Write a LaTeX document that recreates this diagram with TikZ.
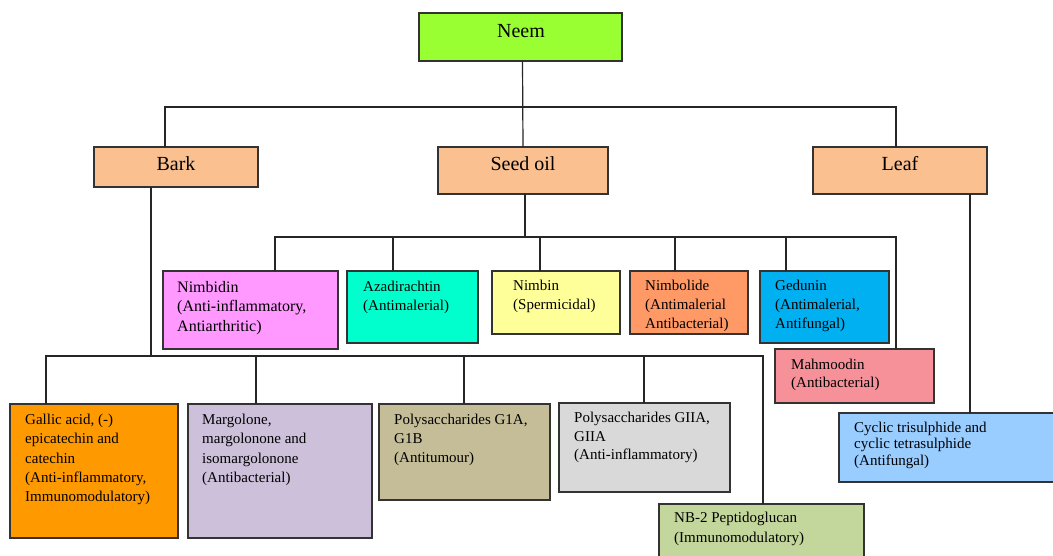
\documentclass[tikz,border=0pt]{standalone}
\usepackage{fontspec}
\setmainfont{Liberation Serif}
\definecolor{cneem}{HTML}{99FF33}
\definecolor{cpeach}{HTML}{FAC090}
\definecolor{cnimbidin}{HTML}{FF99FF}
\definecolor{cazad}{HTML}{00FFCC}
\definecolor{cnimbin}{HTML}{FFFF99}
\definecolor{cnimbolide}{HTML}{FF9966}
\definecolor{cgedunin}{HTML}{00B0F0}
\definecolor{cmahmood}{HTML}{F69199}
\definecolor{cgallic}{HTML}{FF9900}
\definecolor{cmargo}{HTML}{CCC0DA}
\definecolor{cpga}{HTML}{C4BD97}
\definecolor{cpgb}{HTML}{D9D9D9}
\definecolor{cnb}{HTML}{C3D69B}
\definecolor{ccyclic}{HTML}{99CCFF}
\definecolor{cborder}{HTML}{333333}
\begin{document}
\begin{tikzpicture}[x=1pt,y=-1pt,
  box/.style={draw=cborder,line width=1.4pt,rectangle,inner sep=0pt,outer sep=0pt,anchor=north west},
  conn/.style={draw=black!85,line width=1.2pt},
  head/.style={anchor=base,inner sep=0pt,font=\fontsize{20}{24}\selectfont},
  txt/.style={anchor=north west,inner sep=0pt,align=left,font=\fontsize{15}{19}\selectfont}]
\useasboundingbox (0,0) rectangle (1053,556);
\clip (0,0) rectangle (1053,556);
\fill[white] (0,0) rectangle (1053,556);
% boxes
\node[box,fill=cneem,minimum width=203pt,minimum height=48pt] (neem) at (419,13) {};
\node[box,fill=cpeach,minimum width=164pt,minimum height=40pt] (bark) at (94,147) {};
\node[box,fill=cpeach,minimum width=170pt,minimum height=47pt] (seed) at (438,147) {};
\node[box,fill=cpeach,minimum width=174pt,minimum height=47pt] (leaf) at (813,147) {};
\node[box,fill=cnimbidin,minimum width=175pt,minimum height=78pt] (nimbidin) at (163,271) {};
\node[box,fill=cazad,minimum width=131pt,minimum height=72pt] (azad) at (347,271) {};
\node[box,fill=cnimbin,minimum width=128pt,minimum height=63pt] (nimbin) at (492,271) {};
\node[box,fill=cnimbolide,minimum width=118pt,minimum height=63pt] (nimbolide) at (630,271) {};
\node[box,fill=cgedunin,minimum width=129pt,minimum height=72pt] (gedunin) at (760,271) {};
\node[box,fill=cmahmood,minimum width=159pt,minimum height=54pt] (mahmood) at (775,349) {};
\node[box,fill=cgallic,minimum width=168pt,minimum height=134pt] (gallic) at (10,404) {};
\node[box,fill=cmargo,minimum width=184pt,minimum height=134pt] (margo) at (188,404) {};
\node[box,fill=cpga,minimum width=171pt,minimum height=96pt] (pga) at (379,404) {};
\node[box,fill=cpgb,minimum width=171pt,minimum height=89pt] (pgb) at (559,403) {};
\node[box,fill=cnb,minimum width=205pt,minimum height=70pt] (nb) at (659,504) {};
\node[box,fill=ccyclic,minimum width=230pt,minimum height=69pt] (cyclic) at (839,413) {};
% texts
\node[head] (tneem) at (521,38) {Neem};
\node[head] (tbark) at (176,171) {Bark};
\node[head] (tseed) at (523,171) {Seed oil};
\node[head] (tleaf) at (900,171) {Leaf};
\node[txt,font=\fontsize{16}{19.5}\selectfont] (tnimbidin) at (177,281) {Nimbidin\\(Anti-inflammatory,\\Antiarthritic)};
\node[txt,font=\fontsize{15}{18.7}\selectfont] (tazad) at (363,281) {Azadirachtin\\(Antimalerial)};
\node[txt,font=\fontsize{15}{18.7}\selectfont] (tnimbin) at (513,280) {Nimbin\\(Spermicidal)};
\node[txt,font=\fontsize{15}{18.7}\selectfont] (tnimbolide) at (645,280) {Nimbolide\\(Antimalerial\\Antibacterial)};
\node[txt,font=\fontsize{15}{18.7}\selectfont] (tgedunin) at (775,280) {Gedunin\\(Antimalerial,\\Antifungal)};
\node[txt,font=\fontsize{15}{18}\selectfont] (tmahmood) at (791,359) {Mahmoodin\\(Antibacterial)};
\node[txt,font=\fontsize{15}{19.3}\selectfont] (tgallic) at (25,414) {Gallic acid, (-)\\epicatechin and\\catechin\\(Anti-inflammatory,\\Immunomodulatory)};
\node[txt,font=\fontsize{15}{19.3}\selectfont] (tmargo) at (202,414) {Margolone,\\margolonone and\\isomargolonone\\(Antibacterial)};
\node[txt,font=\fontsize{15}{19}\selectfont] (tpga) at (394,414) {Polysaccharides G1A,\\G1B\\(Antitumour)};
\node[txt,font=\fontsize{15}{18.5}\selectfont] (tpgb) at (574,412) {Polysaccharides GIIA,\\GIIA\\(Anti-inflammatory)};
\node[txt,font=\fontsize{15}{20}\selectfont] (tnb) at (674,512) {NB-2 Peptidoglucan\\(Immunomodulatory)};
\node[txt,font=\fontsize{15}{16.3}\selectfont] (tcyclic) at (854,422) {Cyclic trisulphide and\\cyclic tetrasulphide\\(Antifungal)};
% connectors
\draw[conn] ([xshift=2pt]neem.south) -- (seed.north);
\draw[conn] ([xshift=71pt]bark.north west) -- ++(0,-40) -| ([xshift=83pt]leaf.north west);
\draw[conn] ([xshift=87pt]seed.south west) -- ++(0,43);
\draw[conn] ([xshift=112pt]nimbidin.north west) -- ++(0,-34) -| ([xshift=121pt]mahmood.north west);
\draw[conn] ([xshift=46pt]azad.north west) -- ++(0,-34);
\draw[conn] ([xshift=48pt]nimbin.north west) -- ++(0,-34);
\draw[conn] ([xshift=45pt]nimbolide.north west) -- ++(0,-34);
\draw[conn] ([xshift=26pt]gedunin.north west) -- ++(0,-34);
\draw[conn] ([xshift=57pt]bark.south west) -- ++(0,169);
\draw[conn] ([xshift=36pt]gallic.north west) -- ++(0,-48) -| ([xshift=104pt]nb.north west);
\draw[conn] ([xshift=68pt]margo.north west) -- ++(0,-48);
\draw[conn] ([xshift=85pt]pga.north west) -- ++(0,-48);
\draw[conn] ([xshift=85pt]pgb.north west) -- ++(0,-47);
\draw[conn] ([xshift=157pt]leaf.south west) -- ([xshift=131pt]cyclic.north west);
\end{tikzpicture}
\end{document}
